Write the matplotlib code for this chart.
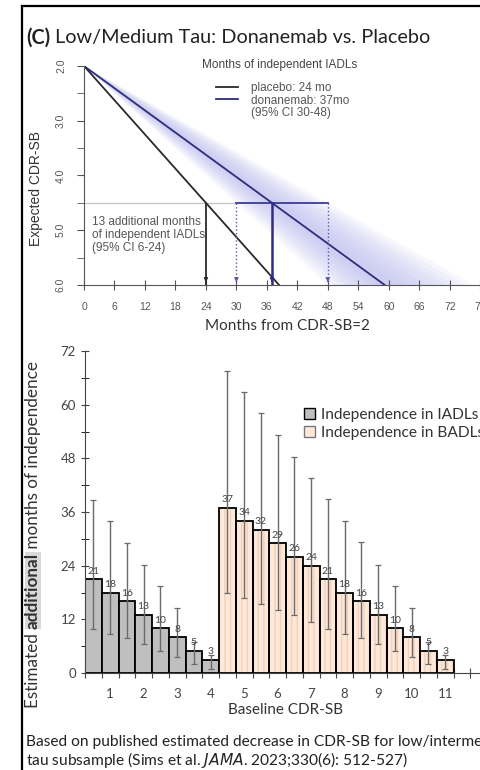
import numpy as np
import matplotlib.pyplot as plt
from matplotlib.patches import Patch
from matplotlib.lines import Line2D

# top panel: expected CDR-SB over time from CDR-SB = 2
cdr_start = 2.0
cdr_thresh = 4.5   # loss of IADL independence
cdr_end = 6.0
months_placebo = 24
months_dona = 37
ci_dona = [30, 48]
top_xticks = np.arange(0, 79, 6)
top_yticks = [2.0, 3.0, 4.0, 5.0, 6.0]

# bottom panel: additional months of independence by baseline CDR-SB
iadl_x = [0.5, 1.0, 1.5, 2.0, 2.5, 3.0, 3.5, 4.0]
iadl_val = [21, 18, 16, 13, 10, 8, 5, 3]
iadl_lo = [9.8, 8.7, 7.8, 6.5, 5.0, 3.6, 2.0, 1.0]
iadl_hi = [38.7, 33.9, 29.0, 24.2, 19.5, 14.5, 7.0, 4.0]
badl_x = [4.5, 5.0, 5.5, 6.0, 6.5, 7.0, 7.5, 8.0, 8.5, 9.0, 9.5, 10.0, 10.5, 11.0]
badl_val = [37, 34, 32, 29, 26, 24, 21, 18, 16, 13, 10, 8, 5, 3]
badl_lo = [17.9, 16.8, 15.4, 14.1, 13.0, 11.5, 9.8, 8.7, 7.8, 6.5, 5.0, 3.6, 2.0, 1.0]
badl_hi = [67.6, 62.9, 58.2, 53.2, 48.4, 43.6, 38.9, 34.0, 29.2, 24.2, 19.5, 14.5, 7.0, 4.0]
bottom_xlabels = list(range(1, 12))

plt.rcParams['font.family'] = ['Lato', 'DejaVu Sans']
arial = ['Liberation Sans', 'DejaVu Sans']
W, H = 480, 770

fig = plt.figure(figsize=(4.8, 7.7), dpi=100)

def fx(px):
    return px / W

def fy(py):
    return 1 - py / H

# frame lines of the original figure
fig.add_artist(Line2D([fx(22), fx(22)], [0, fy(6)], color='black', lw=1.6, transform=fig.transFigure))
fig.add_artist(Line2D([fx(22), 1], [fy(6), fy(6)], color='black', lw=1.6, transform=fig.transFigure))

# title with bold panel letter
r = fig.canvas.get_renderer()
t1 = fig.text(fx(26), fy(38), '(C)', fontsize=14.3, fontweight='bold', color='#222', va='center')
w1 = t1.get_window_extent(r).width
fig.text(fx(26) + (w1 + 5) / W, fy(38), 'Low/Medium Tau: Donanemab vs. Placebo',
         fontsize=14.3, color='#222', va='center')

# ---------------- top panel ----------------
ax1 = fig.add_axes([fx(84), fy(285), 80 * 5.08 / W, (285 - 66) / H])
ax1.set_xlim(0, 80)
ax1.set_ylim(cdr_end, cdr_start)

span = cdr_thresh - cdr_start
end_p = (cdr_end - cdr_start) * months_placebo / span
end_d = (cdr_end - cdr_start) * months_dona / span

# confidence band, fading towards its edges
yy = np.array([cdr_start, cdr_end])
for f in np.linspace(1.0, 0.15, 9):
    m_lo = months_dona - f * (months_dona - ci_dona[0])
    m_hi = months_dona + f * (ci_dona[1] - months_dona)
    ax1.fill_betweenx(yy, (yy - cdr_start) * m_lo / span, (yy - cdr_start) * m_hi / span,
                      color='#b4b4ee', alpha=0.1, lw=0)

ax1.plot([0, ci_dona[0]], [cdr_thresh, cdr_thresh], color='#c4c4c4', lw=0.9)
ax1.plot(ci_dona, [cdr_thresh, cdr_thresh], color='#3b3b9a', lw=1.3)

lp, = ax1.plot([0, end_p], [cdr_start, cdr_end], color='#2a2a2a', lw=1.3)
ld, = ax1.plot([0, end_d], [cdr_start, cdr_end], color='#2d2d7d', lw=1.3)

def drop(x, color, ls, lw):
    ax1.plot([x, x], [cdr_thresh, cdr_end], color=color, ls=ls, lw=lw)
    ax1.annotate('', xy=(x, cdr_end), xytext=(x, cdr_end - 0.12),
                 arrowprops=dict(arrowstyle='-|>', color=color, lw=0.8, mutation_scale=6))

drop(months_placebo, '#2a2a2a', '-', 1.3)
drop(ci_dona[0], '#5a5aae', ':', 1.0)
drop(months_dona, '#2d2d8a', '-', 1.8)
drop(ci_dona[1], '#5a5aae', ':', 1.0)

for s in ['top', 'right']:
    ax1.spines[s].set_visible(False)
for s in ['left', 'bottom']:
    ax1.spines[s].set_color('#555')
ax1.set_xticks(top_xticks)
ax1.set_xticklabels([str(v) for v in top_xticks], fontsize=7.5, color='#555', family=arial)
ax1.set_yticks(top_yticks)
ax1.set_yticks(np.arange(2.5, 6, 1.0), minor=True)
ax1.set_yticklabels(['%.1f' % v for v in top_yticks], fontsize=7.5, color='#555',
                    rotation=90, va='center', family=arial)
ax1.tick_params(axis='x', direction='inout', length=7, color='#555', pad=9)
ax1.tick_params(axis='y', which='both', direction='out', length=5, color='#555', pad=8)
ax1.set_xlabel('Months from CDR-SB=2', fontsize=11, color='#333', labelpad=5)
ax1.set_ylabel('Expected CDR-SB', fontsize=10, color='#333', family=arial)
ax1.yaxis.set_label_coords(-0.1, 0.44)

ax1.text(1.6, 5.09, '13 additional months\nof independent IADLs\n(95% CI 6-24)',
         fontsize=8.5, color='#555', family=arial, va='center', ha='left', linespacing=1.08)

fig.text(fx(202), fy(65), 'Months of independent IADLs', fontsize=8.5, color='#444',
         family=arial, va='center')
blank = Line2D([], [], color='none')
leg1 = ax1.legend([lp, ld, blank],
                  ['placebo: 24 mo', 'donanemab: 37mo', '(95% CI 30-48)'],
                  loc='upper left', bbox_to_anchor=(fx(216), fy(82)),
                  bbox_transform=fig.transFigure, frameon=False, borderpad=0,
                  borderaxespad=0, handlelength=1.9, handletextpad=1.1,
                  labelspacing=0.05, prop=dict(family=arial, size=8.5))
for t in leg1.get_texts():
    t.set_color('#555')

# ---------------- bottom panel ----------------
ax2 = fig.add_axes([fx(85), fy(673), 12 * 33.5 / W, (673 - 351) / H])
ax2.set_xlim(0.25, 12.25)
ax2.set_ylim(0, 72)

ax2.bar(iadl_x, iadl_val, width=0.5, color='#bfbfbf', edgecolor='black', lw=1.3, zorder=2)
ax2.bar(badl_x, badl_val, width=0.5, color='#fde8da', edgecolor='#f5d0b8', hatch='|||',
        lw=0, zorder=2)
ax2.bar(badl_x, badl_val, width=0.5, fill=False, edgecolor='black', lw=1.3, zorder=2)

for xs, v, lo, hi in [(iadl_x, iadl_val, iadl_lo, iadl_hi), (badl_x, badl_val, badl_lo, badl_hi)]:
    v = np.array(v)
    ax2.errorbar(xs, v, yerr=[v - np.array(lo), np.array(hi) - v], fmt='none',
                 ecolor='#6a6a6a', elinewidth=1.0, capsize=2, capthick=0.9, zorder=3)
    for x, val in zip(xs, v):
        ax2.text(x, val + 0.8, str(val), ha='center', va='bottom', fontsize=7.5,
                 color='#444', zorder=4)

for s in ['top', 'right']:
    ax2.spines[s].set_visible(False)
for s in ['left', 'bottom']:
    ax2.spines[s].set_color('#444')
edges = np.arange(0.25, 12.3, 0.5)
ax2.set_xticks(edges)
ax2.set_xticklabels([''] * len(edges))
ax2.set_xticks(bottom_xlabels, minor=True)
ax2.set_xticklabels([str(v) for v in bottom_xlabels], minor=True, fontsize=9.5, color='#444')
ax2.tick_params(axis='x', which='major', direction='inout', length=7, color='#444')
ax2.tick_params(axis='x', which='minor', length=0, pad=11)
ax2.set_yticks(np.arange(0, 73, 12))
ax2.set_yticks(np.arange(6, 72, 12), minor=True)
ax2.tick_params(axis='y', labelsize=9.5, labelcolor='#444', color='#444')
ax2.tick_params(axis='y', which='both', direction='inout', length=6)
ax2.set_xlabel('Baseline CDR-SB', fontsize=11, color='#333', labelpad=2)

# y label with highlighted word, built from pieces
yl_x = fx(33)
yb = fy(708)
parts = [('Estimated ', 'normal', None), ('additional', 'bold', '#d9d9d9'),
         (' months of independence', 'normal', None)]
for txt, wt, bg in parts:
    kw = {}
    if bg:
        kw['bbox'] = dict(facecolor=bg, edgecolor='none', pad=0.3)
    tt = fig.text(yl_x, yb, txt, rotation=90, fontsize=12.3, fontweight=wt, color='#333',
                  ha='center', va='bottom', **kw)
    h = tt.get_window_extent(r).height
    yb += h / H

leg2 = fig.legend([Patch(facecolor='#bfbfbf', edgecolor='black'),
                   Patch(facecolor='#fde8da', edgecolor='#777')],
                  ['Independence in IADLs', 'Independence in BADLs'],
                  loc='upper left', bbox_to_anchor=(fx(304), fy(408)), frameon=False,
                  borderpad=0, borderaxespad=0, handlelength=0.7, handleheight=0.7,
                  handletextpad=0.4, labelspacing=0.25, fontsize=11.2)
for t in leg2.get_texts():
    t.set_color('#333')

fig.text(fx(26), fy(742), 'Based on published estimated decrease in CDR-SB for low/intermediate',
         fontsize=11.2, color='#222', va='center')
fig.text(fx(26), fy(760), 'tau subsample (Sims et al. $\\it{JAMA}$. 2023;330(6): 512-527)',
         fontsize=11.2, color='#222', va='center')

fig.savefig('out.png', dpi=100)
